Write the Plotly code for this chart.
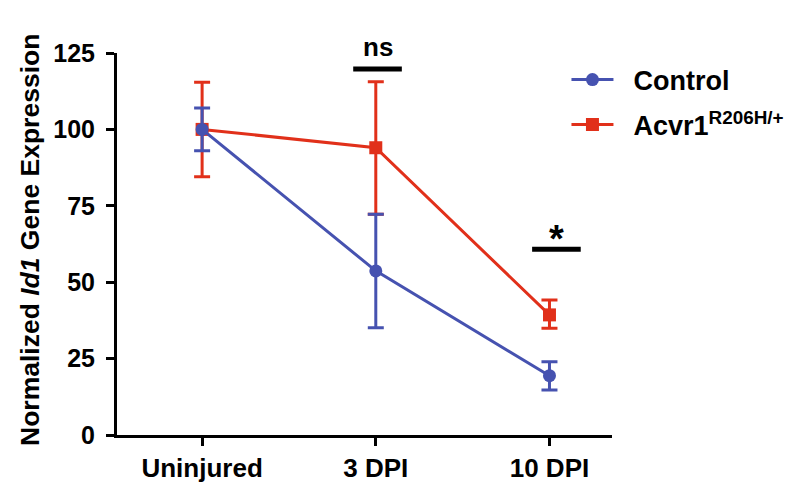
import plotly.graph_objects as go

categories = ["Uninjured", "3 DPI", "10 DPI"]
control_mean = [100, 53.7, 19.4]
control_upper = [107, 72.2, 24.0]
control_lower = [93, 35.1, 14.7]
acvr_mean = [100, 94, 39.3]
acvr_upper = [115.4, 115.6, 44.2]
acvr_lower = [84.5, 72.2, 34.9]
y_ticks = [0, 25, 50, 75, 100, 125]

BLUE = "#4652B0"
RED = "#E1301A"
FONT = "Liberation Sans, Arial, Helvetica, sans-serif"

def err(mean, up, lo):
    return ([u - m for u, m in zip(up, mean)], [m - l for m, l in zip(mean, lo)])

cu, cl = err(control_mean, control_upper, control_lower)
au, al = err(acvr_mean, acvr_upper, acvr_lower)

fig = go.Figure()
fig.add_trace(go.Scatter(
    x=categories, y=acvr_mean, mode="lines+markers",
    name="&nbsp;&nbsp;Acvr1<sup>R206H/+</sup>", legend="legend2",
    line=dict(color=RED, width=3),
    marker=dict(symbol="square", size=13, color=RED),
    error_y=dict(type="data", array=au, arrayminus=al, color=RED, thickness=3, width=8),
    cliponaxis=False,
))
fig.add_trace(go.Scatter(
    x=categories, y=control_mean, mode="lines+markers",
    name="&nbsp;&nbsp;Control", legend="legend",
    line=dict(color=BLUE, width=3),
    marker=dict(symbol="circle", size=13, color=BLUE),
    error_y=dict(type="data", array=cu, arrayminus=cl, color=BLUE, thickness=3, width=8),
    cliponaxis=False,
))

# significance bars
fig.add_shape(type="line", xref="x", yref="y", x0=0.87, x1=1.15, y0=119.8, y1=119.8,
              line=dict(color="black", width=5))
fig.add_shape(type="line", xref="x", yref="y", x0=1.90, x1=2.18, y0=60.8, y1=60.8,
              line=dict(color="black", width=5))
fig.add_annotation(x=(378 - 117) / 495, y=(435 - 47) / 382, xref="paper", yref="paper",
                   text="ns", showarrow=False,
                   font=dict(family=FONT, size=26, color="black", weight="bold"),
                   xanchor="center", yanchor="middle")
fig.add_annotation(x=2.04, y=56.5, xref="x", yref="y", text="*", showarrow=False,
                   font=dict(family=FONT, size=38, color="black", weight="bold"),
                   yanchor="bottom")

# y title
fig.add_annotation(x=(30 - 117) / 495, y=(435 - 240) / 382, xref="paper", yref="paper",
                   text="Normalized <i>Id1</i> Gene Expression", textangle=-90, showarrow=False,
                   font=dict(family=FONT, size=26.5, color="black", weight="bold"),
                   xanchor="center", yanchor="middle")

legend_common = dict(
    font=dict(family=FONT, size=27, color="black", weight="bold"),
    bgcolor="rgba(0,0,0,0)", borderwidth=0, itemwidth=42,
    xanchor="left", yanchor="middle",
)
# page body has an 8px margin: figure is 8px smaller so it fits the 795x482 window
fig.update_layout(
    width=787, height=474,
    margin=dict(l=109, r=183, t=45, b=47, autoexpand=False),
    plot_bgcolor="white", paper_bgcolor="white",
    showlegend=True,
    legend=dict(x=0.908, y=(435 - 80) / 382, **legend_common),
    legend2=dict(x=0.908, y=(435 - 125) / 382, **legend_common),
    xaxis=dict(
        type="category", range=[-0.49, 2.36], automargin=False,
        showline=True, linecolor="black", linewidth=3,
        ticks="outside", ticklen=8, tickwidth=3, tickcolor="black",
        showgrid=False, zeroline=False,
        tickfont=dict(family=FONT, size=26, color="black", weight="bold"),
    ),
    yaxis=dict(
        range=[0, 125], tickvals=y_ticks, automargin=False,
        showline=True, linecolor="black", linewidth=3,
        ticks="outside", ticklen=8, tickwidth=3, tickcolor="black",
        ticklabelstandoff=6,
        showgrid=False, zeroline=False,
        tickfont=dict(family=FONT, size=25, color="black", weight="bold"),
    ),
)

fig.write_html("out.html")
